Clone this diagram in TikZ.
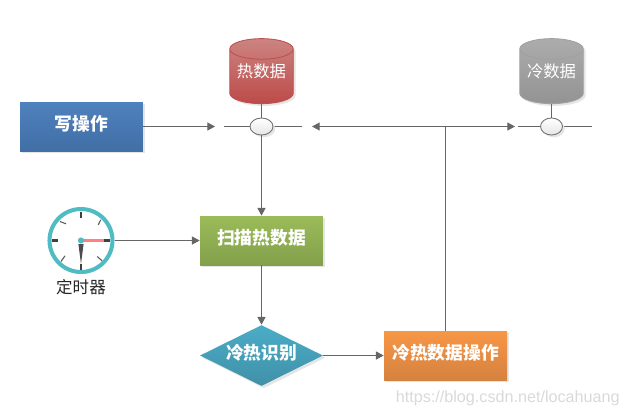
\documentclass[tikz,border=0pt]{standalone}
\usepackage{fontspec}
\setmainfont{Noto Sans CJK SC}
\newfontfamily\markfont{Liberation Sans}
\usetikzlibrary{arrows.meta,shapes.geometric,shadows}
\definecolor{linegray}{HTML}{666666}
\definecolor{tealring}{HTML}{4FBCC4}
\tikzset{
  softshadow/.style={general shadow={shadow xshift=1.3pt,shadow yshift=-1.3pt,fill=black!10}},
  flowbox/.style={rectangle,draw=none,minimum width=2.46cm,minimum height=0.98cm,inner sep=0pt,
    softshadow,text=white,text height=8pt,text depth=3.6pt,font=\fontsize{10.1}{12}\selectfont\bfseries},
  datastore/.style={cylinder,shape border rotate=90,aspect=0.42,minimum width=1.27cm,minimum height=1.3cm,
    inner sep=0pt,softshadow,text=white,text height=8pt,text depth=7pt,font=\fontsize{9.3}{12}\selectfont},
  joint/.style={ellipse,draw=black!55,line width=0.5pt,top color=white,bottom color=black!10,
    minimum width=0.46cm,minimum height=0.34cm,inner sep=0pt,softshadow},
  link/.style={draw=linegray,line width=0.6pt},
  flow/.style={link,-{Triangle[length=4.4pt,width=4.6pt]}},
  flowboth/.style={link,{Triangle[length=4.4pt,width=4.6pt]}-{Triangle[length=4.4pt,width=4.6pt]}}
}
\begin{document}
\begin{tikzpicture}[x=0.02cm,y=-0.02cm]
  \useasboundingbox (0,0) rectangle (624,417);
  % boxes
  \node[flowbox,top color={rgb,255:red,79;green,129;blue,189},bottom color={rgb,255:red,65;green,111;blue,166}] (write) at (81.5,126.5) {写操作};
  \node[flowbox,top color={rgb,255:red,155;green,187;blue,89},bottom color={rgb,255:red,131;green,160;blue,74}] (scan) at (261.5,240.5) {扫描热数据};
  \node[flowbox,diamond,aspect=2,minimum width=2.46cm,minimum height=1.22cm,top color={rgb,255:red,75;green,172;blue,198},bottom color={rgb,255:red,63;green,145;blue,168}] (check) at (261.5,355.5) {冷热识别};
  \node[flowbox,top color={rgb,255:red,247;green,150;blue,70},bottom color={rgb,255:red,213;green,130;blue,64}] (move) at (445.5,355.5) {冷热数据操作};
  % stores
  \node[datastore,draw={rgb,255:red,190;green,80;blue,77},line width=0.5pt,top color={rgb,255:red,204;green,132;blue,130},bottom color={rgb,255:red,188;green,75;blue,73}] (hot) at (261.5,76.5) {热数据};
  \node[datastore,draw={rgb,255:red,160;green,160;blue,160},line width=0.5pt,top color={rgb,255:red,172;green,172;blue,172},bottom color={rgb,255:red,147;green,147;blue,147}] (cold) at (551.5,76.5) {冷数据};
  % free ends
  \coordinate (writeend) at (215,126.5);
  \coordinate (hotwest) at (224,126.5);
  \coordinate (hoteast) at (302,126.5);
  \coordinate (busleft) at (312,126.5);
  \coordinate (busright) at (515,126.5);
  \coordinate (busjoin) at (445.5,126.5);
  \coordinate (coldwest) at (518,126.5);
  \coordinate (coldeast) at (592,126.5);
  % links
  \draw[link] (hotwest) -- (hoteast);
  \draw[link] (coldwest) -- (coldeast);
  \draw[link] (hot.south) -- (261.5,126.5);
  \draw[link] (cold.south) -- (551.5,126.5);
  \node[joint] (hotjoint) at (261.5,126.5) {};
  \node[joint,minimum width=0.44cm] (coldjoint) at (551.5,126.5) {};
  \draw[flow] (write) -- (writeend);
  \draw[flowboth] (busleft) -- (busright);
  \draw[link] (move.north) -- (busjoin);
  \draw[flow] (hotjoint) -- (scan);
  \draw[flow] (scan) -- (check);
  \draw[flow] (check) -- (move);
  % clock
  \node[circle,draw=tealring,line width=2.3pt,fill=white,minimum size=1.26cm,inner sep=0pt] (clock) at (81,240.5) {};
  \foreach \x/\y/\u/\v in {0/-29/0/-23,29/0/23/0,0/29/0/23,-29/0/-23/0} {
    \draw[black!75,line width=1.7pt] (81+\x,240.5+\y) -- (81+\u,240.5+\v);
  }
  \foreach \x/\y/\u/\v in {17.3/-15.7/19.7/-20.7,-21/-19/-15/-16.7,-20/21/-16/15.3,16.3/16/21/20.3} {
    \draw[black!65,line width=0.6pt] (81+\x,240.5+\y) -- (81+\u,240.5+\v);
  }
  \fill[black!70] (78.4,244) -- (83.6,244) -- (81,264) -- cycle;
  \draw[red!50!white,line width=1.3pt] (81,240.5) -- (104,240.5);
  \fill[tealring] (81,240.5) circle (3.1);
  \node[font=\fontsize{9.4}{12}\selectfont,text=black!85] (clocklabel) at (81,287) {定时器};
  \draw[flow] (clock) -- (scan);
  % watermark
  \node[anchor=east,text=black!15,font=\markfont\fontsize{9.2}{12}\selectfont,inner sep=0pt] (mark) at (620,398) {https://blog.csdn.net/locahuang};
\end{tikzpicture}
\end{document}
